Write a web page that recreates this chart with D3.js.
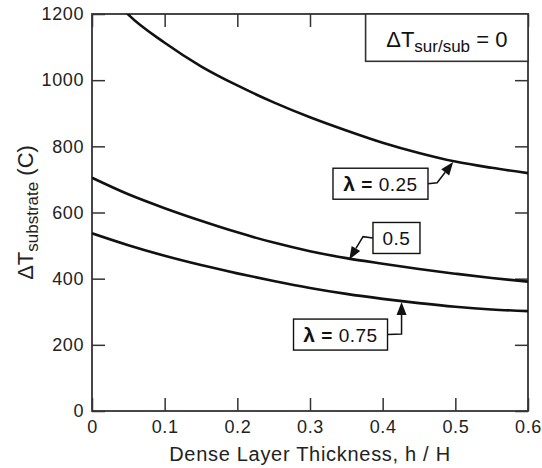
<!DOCTYPE html>
<html>
<head>
<meta charset="utf-8">
<script src="https://cdn.jsdelivr.net/npm/d3@7"></script>
<style>
  html, body { margin: 0; padding: 0; background: #fff; }
  svg { display: block; font-family: "Liberation Sans", Arial, sans-serif; }
</style>
</head>
<body>
<svg id="chart" width="542" height="468"></svg>
<script>
// Dense layer thickness h/H
const thickness = [0, 0.05, 0.1, 0.15, 0.2, 0.25, 0.3, 0.35, 0.4, 0.45, 0.5, 0.55, 0.6];
// Substrate temperature rise (C) for each lambda
const lambda025 = [1330, 1198, 1113, 1042, 984, 933, 888, 848, 811, 780, 754, 735, 719];
const lambda050 = [705, 655, 613, 575, 540, 509, 483, 462, 445, 429, 415, 402, 391];
const lambda075 = [537, 501, 469, 441, 416, 393, 372, 354, 339, 326, 315, 307, 302];
const seriesNames = ["λ = 0.25", "0.5", "λ = 0.75"];
const xTicks = [0, 0.1, 0.2, 0.3, 0.4, 0.5, 0.6];
const yTicks = [0, 200, 400, 600, 800, 1000, 1200];

const svg = d3.select("#chart");
const margin = { left: 92, right: 14, top: 14, bottom: 57 };
const W = 542, H = 468;
const x = d3.scaleLinear().domain([0, 0.6]).range([margin.left, W - margin.right]);
const y = d3.scaleLinear().domain([0, 1200]).range([H - margin.bottom, margin.top]);

const axisColor = "#333";
const tickLen = 13;

// clip curves to the plot frame
svg.append("clipPath").attr("id", "plotClip")
  .append("rect")
  .attr("x", x(0)).attr("y", y(1200))
  .attr("width", x(0.6) - x(0)).attr("height", y(0) - y(1200));

// Axes with inward ticks, mirrored on top and right
function styleAxis(g) {
  g.select(".domain").remove();
  g.selectAll(".tick line").attr("stroke", axisColor).attr("stroke-width", 1.5);
  g.selectAll(".tick text").attr("fill", "#222").style("font-size", "18px").style("letter-spacing", "0.6px");
}
svg.append("g").attr("transform", `translate(0,${y(0)})`)
  .call(d3.axisBottom(x).tickValues(xTicks).tickSizeInner(-tickLen).tickSizeOuter(0).tickPadding(9)
    .tickFormat(d => d === 0 ? "0" : d3.format(".1f")(d)))
  .call(styleAxis);
svg.append("g").attr("transform", `translate(${x(0)},0)`)
  .call(d3.axisLeft(y).tickValues(yTicks).tickSizeInner(-tickLen).tickSizeOuter(0).tickPadding(8)
    .tickFormat(d3.format("d")))
  .call(styleAxis);
svg.append("g").attr("transform", `translate(0,${y(1200)})`)
  .call(d3.axisTop(x).tickValues(xTicks).tickSizeInner(-tickLen).tickSizeOuter(0).tickFormat(""))
  .call(styleAxis);
svg.append("g").attr("transform", `translate(${x(0.6)},0)`)
  .call(d3.axisRight(y).tickValues(yTicks).tickSizeInner(-tickLen).tickSizeOuter(0).tickFormat(""))
  .call(styleAxis);

// frame
svg.append("rect")
  .attr("x", x(0)).attr("y", y(1200))
  .attr("width", x(0.6) - x(0)).attr("height", y(0) - y(1200))
  .attr("fill", "none").attr("stroke", axisColor).attr("stroke-width", 1.8);

// curves
const line = d3.line().x(d => x(d[0])).y(d => y(d[1])).curve(d3.curveMonotoneX);
const series = [lambda025, lambda050, lambda075];
series.forEach(vals => {
  svg.append("path")
    .attr("clip-path", "url(#plotClip)")
    .attr("d", line(thickness.map((h, i) => [h, vals[i]])))
    .attr("fill", "none").attr("stroke", "#111").attr("stroke-width", 2.6);
});

// value on a series at thickness h (linear between table rows)
function valueAt(vals, h) {
  return d3.scaleLinear().domain(thickness).range(vals)(h);
}

// Labelled arrows: box centre, elbow and tip in data units
const notes = [
  { s: 0, box: [0.397, 687], boxW: 95, elbow: [0.475, 690], tipH: 0.497, side: "right" },
  { s: 1, box: [0.419, 523], boxW: 47, elbow: [0.373, 527], tipH: 0.354, side: "left" },
  { s: 2, box: [0.342, 231], boxW: 94, elbow: [0.426, 233], tipH: 0.426, side: "right" }
];
const boxH = 31;
notes.forEach(n => {
  const cx = x(n.box[0]), cy = y(n.box[1]);
  const startX = n.side === "right" ? cx + n.boxW / 2 : cx - n.boxW / 2;
  const ex = x(n.elbow[0]), ey = y(n.elbow[1]);
  const tx = x(n.tipH), ty = y(valueAt(series[n.s], n.tipH)) + 1;
  // arrowhead geometry
  const ang = Math.atan2(ty - ey, tx - ex);
  const L = 13, Wd = 5;
  const bx = tx - L * Math.cos(ang), by = ty - L * Math.sin(ang);
  svg.append("path")
    .attr("d", `M${startX},${cy}L${ex},${ey}L${bx},${by}`)
    .attr("fill", "none").attr("stroke", "#111").attr("stroke-width", 1.5);
  svg.append("path")
    .attr("d", `M${tx},${ty}L${bx + Wd * Math.sin(ang)},${by - Wd * Math.cos(ang)}L${bx - Wd * Math.sin(ang)},${by + Wd * Math.cos(ang)}Z`)
    .attr("fill", "#111");
  svg.append("rect")
    .attr("x", cx - n.boxW / 2).attr("y", cy - boxH / 2)
    .attr("width", n.boxW).attr("height", boxH)
    .attr("fill", "#fff").attr("stroke", "#111").attr("stroke-width", 1.4);
  const t = svg.append("text")
    .attr("x", cx).attr("y", cy + 7)
    .attr("text-anchor", "middle").attr("fill", "#111")
    .style("font-size", "19px").style("letter-spacing", "0.5px");
  const name = seriesNames[n.s];
  if (name.startsWith("λ")) {
    t.append("tspan").attr("font-weight", "bold").style("font-size", "21px").text("λ");
    t.append("tspan").attr("font-weight", "bold").text(" = ");
    t.append("tspan").text(name.replace("λ = ", ""));
  } else {
    t.text(name);
  }
});

// Condition box in the upper right corner
const condLeft = x(0.3765), condBottom = y(1057);
svg.append("rect")
  .attr("x", condLeft).attr("y", y(1200))
  .attr("width", x(0.6) - condLeft).attr("height", condBottom - y(1200))
  .attr("fill", "#fff").attr("stroke", axisColor).attr("stroke-width", 1.6);
const cond = svg.append("text")
  .attr("x", (condLeft + x(0.6)) / 2).attr("y", y(1200) + 33)
  .attr("text-anchor", "middle").attr("fill", "#111")
  .style("font-size", "22px");
cond.append("tspan").text("ΔT");
cond.append("tspan").attr("dy", 5).style("font-size", "17px").text("sur/sub");
cond.append("tspan").attr("dy", -5).text(" = 0");

// Axis titles
svg.append("text")
  .attr("x", (x(0) + x(0.6)) / 2).attr("y", 461)
  .attr("text-anchor", "middle").attr("fill", "#222")
  .style("font-size", "20px").style("letter-spacing", "0.7px")
  .text("Dense Layer Thickness, h / H");

const yt = svg.append("text")
  .attr("transform", `translate(33,${(y(0) + y(1200)) / 2}) rotate(-90)`)
  .attr("text-anchor", "middle").attr("fill", "#222")
  .style("font-size", "22px");
yt.append("tspan").text("ΔT");
yt.append("tspan").attr("dy", 5).style("font-size", "17px").text("substrate");
yt.append("tspan").attr("dy", -5).text(" (C)");
</script>
</body>
</html>
